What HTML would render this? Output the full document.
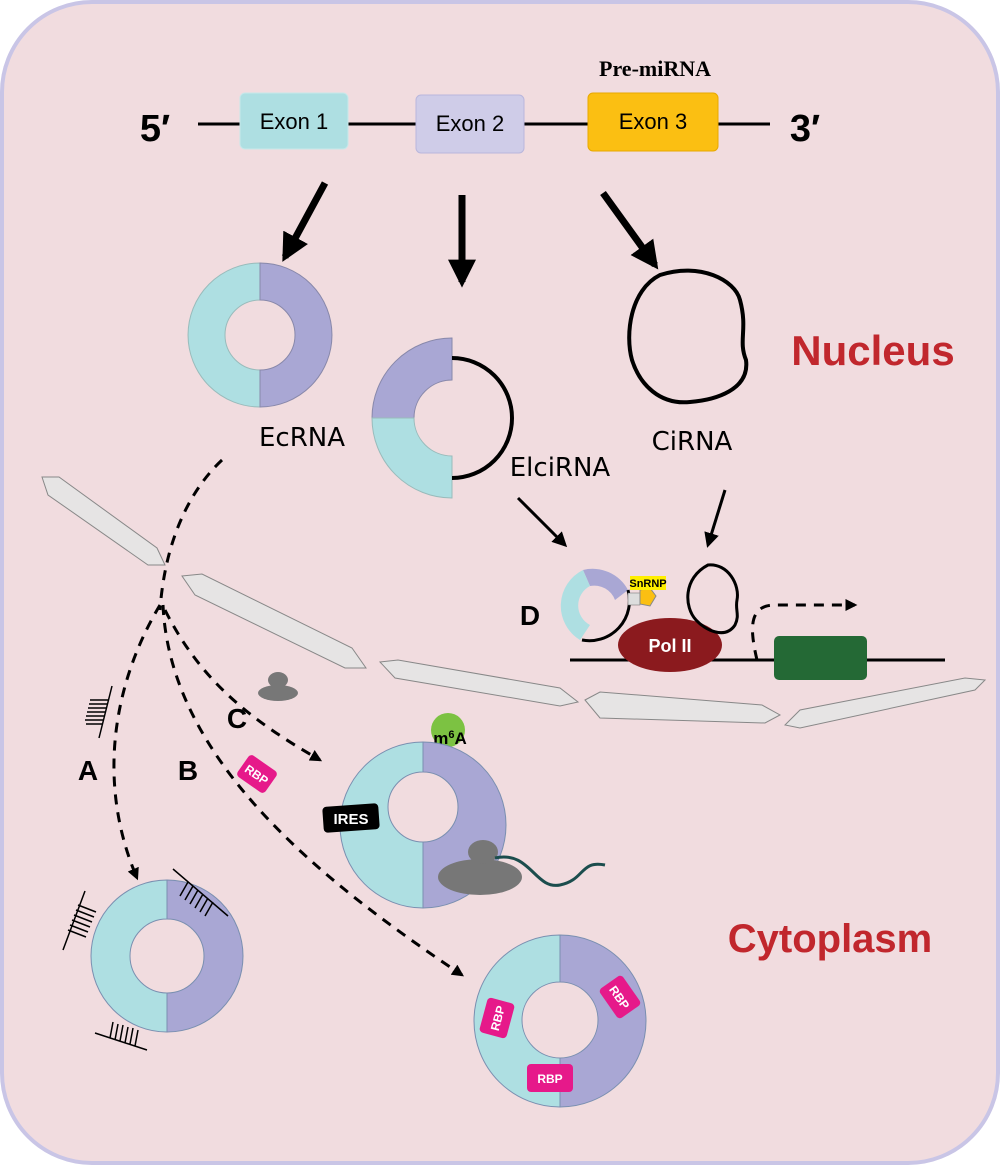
<!DOCTYPE html>
<html><head><style>body{margin:0;background:#fff}svg{display:block}</style></head><body>
<svg width="1000" height="1165" viewBox="0 0 1000 1165" xmlns="http://www.w3.org/2000/svg" font-family="Liberation Sans, sans-serif">
<defs>
<marker id="ah" viewBox="0 0 10 10" refX="8" refY="5" markerWidth="5" markerHeight="5" orient="auto"><path d="M0,0L10,5L0,10z" fill="#000"/></marker>
<marker id="as" viewBox="0 0 10 10" refX="8" refY="5" markerWidth="4" markerHeight="4" orient="auto"><path d="M0,0L10,5L0,10z" fill="#000"/></marker>
</defs>
<rect x="2" y="2" width="996" height="1161" rx="90" fill="#f1dcdf" stroke="#c9c5e6" stroke-width="4"/>
<!-- gene -->
<line x1="198" y1="124" x2="770" y2="124" stroke="#000" stroke-width="3"/>
<rect x="240" y="93" width="108" height="56" rx="5" fill="#aedfe2" stroke="#c8e8ea"/>
<text x="294" y="129" font-size="22" text-anchor="middle">Exon 1</text>
<rect x="416" y="95" width="108" height="58" rx="5" fill="#cfcce8" stroke="#b9b6dc"/>
<text x="470" y="131" font-size="22" text-anchor="middle">Exon 2</text>
<rect x="588" y="93" width="130" height="58" rx="5" fill="#fbbf12" stroke="#e8a800"/>
<text x="653" y="129" font-size="22" text-anchor="middle">Exon 3</text>
<text x="655" y="76" font-size="22" font-weight="bold" font-family="Liberation Serif, serif" text-anchor="middle">Pre-miRNA</text>
<text x="155" y="141" font-size="38" font-weight="bold" text-anchor="middle">5′</text>
<text x="805" y="141" font-size="38" font-weight="bold" text-anchor="middle">3′</text>
<!-- big arrows -->
<line x1="325" y1="183" x2="285" y2="257" stroke="#000" stroke-width="7" marker-end="url(#as)"/>
<line x1="462" y1="195" x2="462" y2="282" stroke="#000" stroke-width="7" marker-end="url(#as)"/>
<line x1="603" y1="193" x2="655" y2="265" stroke="#000" stroke-width="7" marker-end="url(#as)"/>
<text x="873" y="365" font-size="42" font-weight="bold" fill="#c1272d" text-anchor="middle">Nucleus</text>
<text x="830" y="952" font-size="40" font-weight="bold" fill="#c1272d" text-anchor="middle">Cytoplasm</text>
<!-- EcRNA ring -->
<path d="M260,263 A72,72 0 0 0 260,407 L260,370 A35,35 0 0 1 260,300Z" fill="#aedfe2" stroke="#9bb" stroke-width="1"/>
<path d="M260,263 A72,72 0 0 1 260,407 L260,370 A35,35 0 0 0 260,300Z" fill="#a9a7d4" stroke="#88a" stroke-width="1"/>
<text x="302" y="446" font-size="26" font-family="DejaVu Sans, sans-serif" text-anchor="middle">EcRNA</text>
<!-- ElciRNA -->
<path d="M452,338 A80,80 0 0 0 372,418 L414,418 A38,38 0 0 1 452,380Z" fill="#a9a7d4" stroke="#88a"/>
<path d="M372,418 A80,80 0 0 0 452,498 L452,456 A38,38 0 0 1 414,418Z" fill="#aedfe2" stroke="#9bb"/>
<path d="M452,358 A60,60 0 0 1 452,478" fill="none" stroke="#000" stroke-width="4"/>
<text x="560" y="476" font-size="26" font-family="DejaVu Sans, sans-serif" text-anchor="middle">ElciRNA</text>
<!-- CiRNA -->
<path d="M660,275 C700,262 735,280 740,300 C748,330 738,340 746,360 C750,390 715,400 690,402 C660,405 640,385 632,360 C625,335 630,290 660,275Z" fill="none" stroke="#000" stroke-width="4"/>
<text x="692" y="450" font-size="26" font-family="DejaVu Sans, sans-serif" text-anchor="middle">CiRNA</text>
<line x1="518" y1="498" x2="565" y2="545" stroke="#000" stroke-width="3" marker-end="url(#ah)"/>
<line x1="725" y1="490" x2="708" y2="545" stroke="#000" stroke-width="3" marker-end="url(#ah)"/>
<!-- membranes -->
<g fill="#e6e4e4" stroke="#888" stroke-width="1">
<polygon points="42,477 59,477 157,548 165,565 148,565 48,495"/>
<polygon points="182,576 202,574 352,648 366,668 345,668 195,595"/>
<polygon points="380,662 398,660 560,688 578,702 560,706 395,678"/>
<polygon points="585,700 600,692 762,705 780,715 765,723 600,718"/>
<polygon points="785,725 800,710 965,678 985,680 975,690 800,728"/>
</g>
<!-- dashed paths -->
<path d="M222,460 C190,490 165,540 160,610" fill="none" stroke="#000" stroke-width="3" stroke-dasharray="10,8"/>
<path d="M160,605 C115,680 95,780 137,878" fill="none" stroke="#000" stroke-width="3" stroke-dasharray="10,8" marker-end="url(#as)"/>
<path d="M163,605 C170,760 320,880 462,975" fill="none" stroke="#000" stroke-width="3" stroke-dasharray="10,8" marker-end="url(#as)"/>
<path d="M165,610 C200,680 250,720 320,760" fill="none" stroke="#000" stroke-width="3" stroke-dasharray="10,8" marker-end="url(#as)"/>
<text x="88" y="780" font-size="28" font-weight="bold" text-anchor="middle">A</text>
<text x="188" y="780" font-size="28" font-weight="bold" text-anchor="middle">B</text>
<text x="237" y="728" font-size="28" font-weight="bold" text-anchor="middle">C</text>
<text x="530" y="625" font-size="28" font-weight="bold" text-anchor="middle">D</text>
<!-- comb on path A -->
<g stroke="#000" stroke-width="1.5"><line x1="112" y1="686" x2="99" y2="738"/><line x1="108" y1="700" x2="90" y2="700"/><line x1="107" y1="704" x2="89" y2="704"/><line x1="106" y1="708" x2="88" y2="708"/><line x1="105" y1="712" x2="87" y2="712"/><line x1="104" y1="716" x2="86" y2="716"/><line x1="103" y1="720" x2="85" y2="720"/><line x1="102" y1="724" x2="86" y2="724"/></g>
<!-- small ribosome -->
<ellipse cx="278" cy="693" rx="20" ry="8" fill="#777"/><ellipse cx="278" cy="680" rx="10" ry="8" fill="#777"/>
<!-- RBP on path -->
<g transform="translate(257,774) rotate(35)"><rect x="-17" y="-13" width="34" height="26" rx="4" fill="#e6198a"/><text x="0" y="5" font-size="12" font-weight="bold" fill="#fff" text-anchor="middle">RBP</text></g>
<!-- IRES ring -->
<circle cx="448" cy="730" r="17" fill="#7cc242"/>
<text x="450" y="744" font-size="17" font-weight="bold" text-anchor="middle">m<tspan font-size="11" dy="-6">6</tspan><tspan dy="6">A</tspan></text>
<path d="M423,742 A83,83 0 0 0 423,908 L423,842 A35,35 0 0 1 423,772Z" fill="#aedfe2" stroke="#7a8fb0"/>
<path d="M423,742 A83,83 0 0 1 423,908 L423,842 A35,35 0 0 0 423,772Z" fill="#a9a7d4" stroke="#7a8fb0"/>
<rect x="323" y="805" width="56" height="26" rx="4" fill="#000" transform="rotate(-4 351 818)"/>
<text x="351" y="824" font-size="15" font-weight="bold" fill="#fff" text-anchor="middle">IRES</text>
<ellipse cx="480" cy="877" rx="42" ry="18" fill="#777"/><ellipse cx="483" cy="852" rx="15" ry="12" fill="#777"/>
<path d="M495,858 C530,850 535,890 560,885 C585,880 580,860 605,865" fill="none" stroke="#1b4d4d" stroke-width="3"/>
<!-- ring A -->
<path d="M167,880 A76,76 0 0 0 167,1032 L167,993 A37,37 0 0 1 167,919Z" fill="#aedfe2" stroke="#7a8fb0"/>
<path d="M167,880 A76,76 0 0 1 167,1032 L167,993 A37,37 0 0 0 167,919Z" fill="#a9a7d4" stroke="#7a8fb0"/>
<g stroke="#000" stroke-width="1.5" fill="none">
<path d="M63,950 L85,891 M78,905 L96,912 M76,910 L94,917 M74,915 L92,922 M72,920 L90,927 M70,925 L88,932 M68,930 L86,937"/>
<path d="M173,869 L228,916 M188,882 L180,896 M193,886 L185,900 M198,890 L190,904 M203,894 L195,908 M208,898 L200,912 M213,902 L205,916"/>
<path d="M95,1033 L147,1050 M110,1038 L113,1022 M115,1040 L118,1024 M120,1041 L123,1025 M125,1043 L128,1027 M130,1044 L133,1028 M135,1046 L138,1030"/>
</g>
<!-- ring RBP -->
<path d="M560,935 A86,86 0 0 0 560,1107 L560,1058 A38,38 0 0 1 560,982Z" fill="#aedfe2" stroke="#7a8fb0"/>
<path d="M560,935 A86,86 0 0 1 560,1107 L560,1058 A38,38 0 0 0 560,982Z" fill="#a9a7d4" stroke="#7a8fb0"/>
<g font-size="12" font-weight="bold" fill="#fff" text-anchor="middle">
<g transform="translate(497,1018) rotate(-75)"><rect x="-18" y="-14" width="36" height="28" rx="4" fill="#e6198a"/><text x="0" y="5">RBP</text></g>
<g transform="translate(620,997) rotate(55)"><rect x="-18" y="-14" width="36" height="28" rx="4" fill="#e6198a"/><text x="0" y="5">RBP</text></g>
<g transform="translate(550,1078)"><rect x="-23" y="-14" width="46" height="28" rx="4" fill="#e6198a"/><text x="0" y="5">RBP</text></g>
</g>
<!-- D complex -->
<line x1="570" y1="660" x2="945" y2="660" stroke="#000" stroke-width="3"/>
<path d="M628,590 A40,40 0 0 0 583,570 L590,586 A22,22 0 0 1 615,600Z" fill="#a9a7d4"/>
<path d="M583,570 A40,40 0 0 0 580,640 L590,625 A22,22 0 0 1 590,586Z" fill="#aedfe2"/>
<path d="M628,590 A40,40 0 0 1 582,640" fill="none" stroke="#000" stroke-width="3"/>
<rect x="628" y="593" width="12" height="12" fill="#ddd" stroke="#666" stroke-width="0.5"/>
<polygon points="640,590 650,588 656,596 650,606 640,604" fill="#fbbf12" stroke="#888"/>
<rect x="630" y="576" width="36" height="14" fill="#ffef00"/>
<text x="648" y="587" font-size="11" font-weight="bold" text-anchor="middle">SnRNP</text>
<ellipse cx="670" cy="645" rx="52" ry="27" fill="#8b1a1e"/>
<text x="670" y="652" font-size="18" font-weight="bold" fill="#fff" text-anchor="middle">Pol II</text>
<path d="M708,565 C728,563 740,585 737,600 C735,610 740,615 735,625 C725,640 705,630 696,620 C684,607 683,578 708,565Z" fill="none" stroke="#000" stroke-width="3"/>
<path d="M757,660 C750,630 748,605 775,605 L855,605" fill="none" stroke="#000" stroke-width="3" stroke-dasharray="10,8" marker-end="url(#as)"/>
<rect x="774" y="636" width="93" height="44" rx="5" fill="#246935"/>
</svg>
</body></html>
